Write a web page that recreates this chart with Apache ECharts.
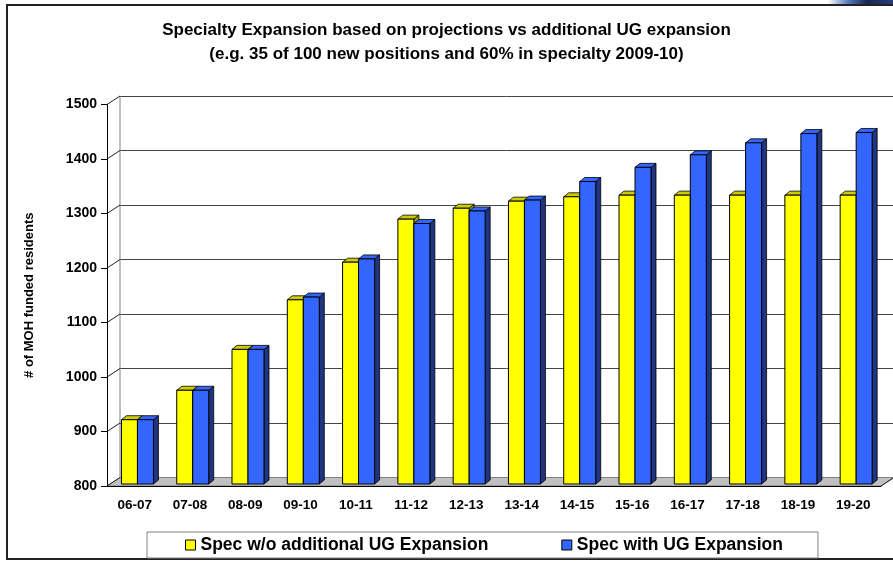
<!DOCTYPE html>
<html>
<head>
<meta charset="utf-8">
<script src="https://cdn.jsdelivr.net/npm/echarts@6/dist/echarts.min.js"></script>
<style>
  html, body { margin: 0; padding: 0; background: #fff; }
  #chart { width: 893px; height: 561px; }
</style>
</head>
<body>
<div id="chart"></div>
<script>
// values
const categories = ['06-07', '07-08', '08-09', '09-10', '10-11', '11-12', '12-13',
  '13-14', '14-15', '15-16', '16-17', '17-18', '18-19', '19-20']
const specWithout = [918, 972, 1047, 1138, 1207, 1286, 1306, 1319, 1327, 1330, 1330, 1330, 1330, 1330]
const specWith = [918, 972, 1047, 1143, 1213, 1278, 1301, 1321, 1355, 1381, 1404, 1426, 1443, 1445]
const yTicks = [800, 900, 1000, 1100, 1200, 1300, 1400, 1500]
const seriesNames = ['Spec w/o additional UG Expansion', 'Spec with UG Expansion']

const FONT = '"Liberation Sans", Arial, sans-serif'
const DX = 13   // depth of the back wall
const DY = 8.5
const BW = 16   // bar width
const BD = 5    // bar depth x
const BH = 4    // bar depth y

const chart = echarts.init(document.getElementById('chart'))

// one 3d looking column, front face + top + side
function barRenderer (colors, offset) {
  return function (params, api) {
    const idx = api.value(0)
    const c = api.coord([idx, api.value(1)])
    const b = api.coord([idx, yTicks[0]])
    const x0 = c[0] + offset
    const top = c[1] - 2
    const bottom = b[1] - 2
    const x1 = x0 + BW
    return {
      type: 'group',
      children: [
        {
          type: 'polygon',
          shape: { points: [[x1, top], [x1 + BD, top - BH], [x1 + BD, bottom - BH], [x1, bottom]] },
          style: { fill: colors.side, stroke: '#000', lineWidth: 0.8 }
        },
        {
          type: 'polygon',
          shape: { points: [[x0, top], [x1, top], [x1 + BD, top - BH], [x0 + BD, top - BH]] },
          style: { fill: colors.top, stroke: '#000', lineWidth: 0.8 }
        },
        {
          type: 'rect',
          shape: { x: x0, y: top, width: BW, height: bottom - top },
          style: { fill: colors.front, stroke: '#000', lineWidth: 1 }
        }
      ]
    }
  }
}

// floor and the little slanted lines joining the front axis to the back wall
function decorRenderer (params, api) {
  const cs = params.coordSys
  const v = api.value(0)
  const p = api.coord([0, v])
  const y = p[1]
  const children = [{
    type: 'line',
    shape: { x1: cs.x, y1: y, x2: cs.x + DX, y2: y - DY },
    style: { stroke: '#222', lineWidth: 1 }
  }]
  if (v === yTicks[0]) {
    children.unshift({
      type: 'polygon',
      shape: {
        points: [[cs.x, y], [cs.x + cs.width, y], [cs.x + cs.width + DX, y - DY], [cs.x + DX, y - DY]]
      },
      style: { fill: '#c0c0c0', stroke: '#808080', lineWidth: 1 }
    })
    children.push({
      type: 'line',
      shape: { x1: cs.x + DX, y1: y - DY, x2: cs.x + DX, y2: cs.y - DY },
      style: { stroke: '#808080', lineWidth: 1 }
    })
    children.push({
      type: 'line',
      shape: { x1: cs.x + cs.width, y1: y, x2: cs.x + cs.width + DX, y2: y - DY },
      style: { stroke: '#222', lineWidth: 1 }
    })
  }
  return { type: 'group', children: children }
}

chart.setOption({
  animation: false,
  title: {
    text: 'Specialty Expansion based on projections vs additional UG expansion\n(e.g. 35 of 100 new positions and 60% in specialty 2009-10)',
    left: 'center',
    top: 18,
    padding: [0, 0, 0, 8],
    textStyle: { fontFamily: FONT, fontWeight: 'bold', fontSize: 17, lineHeight: 24, color: '#000' }
  },
  legend: {
    data: seriesNames,
    left: 147,
    top: 532,
    padding: [4, 35, 4, 38],
    itemGap: 73,
    itemWidth: 10,
    itemHeight: 10,
    icon: 'rect',
    borderColor: '#808080',
    borderWidth: 1,
    itemStyle: { borderColor: '#000', borderWidth: 1 },
    textStyle: { fontFamily: FONT, fontWeight: 'bold', fontSize: 17.5, color: '#000' }
  },
  graphic: [
    {
      type: 'rect',
      shape: { x: 7, y: 5, width: 900, height: 554 },
      style: { fill: 'none', stroke: '#222', lineWidth: 2 },
      z: 0
    },
    {
      type: 'polygon',
      shape: { points: [[828, 0], [893, 0], [893, 4], [828, 4]] },
      style: {
        fill: new echarts.graphic.LinearGradient(0, 0, 1, 0, [
          { offset: 0, color: '#ffffff' },
          { offset: 0.3, color: '#5a7fc0' },
          { offset: 0.6, color: '#1a2550' },
          { offset: 1, color: '#27407a' }
        ])
      }
    }
  ],
  grid: [
    { left: 107, right: 12, top: 104.5, bottom: 75 },
    { left: 107 + DX, right: 12 - DX, top: 104.5 - DY, bottom: 75 + DY }
  ],
  xAxis: [
    {
      type: 'category',
      gridIndex: 0,
      data: categories,
      axisLine: { lineStyle: { color: '#000', width: 1 } },
      axisTick: { length: 6, lineStyle: { color: '#000' } },
      axisLabel: { fontFamily: FONT, fontWeight: 'bold', fontSize: 13.5, color: '#000', margin: 12, interval: 0 },
      z: 5
    },
    { type: 'category', gridIndex: 1, data: categories, show: false }
  ],
  yAxis: [
    {
      type: 'value',
      gridIndex: 0,
      min: 800,
      max: 1500,
      interval: 100,
      name: '# of MOH funded residents',
      nameLocation: 'middle',
      nameGap: 71,
      nameTextStyle: { fontFamily: FONT, fontWeight: 'bold', fontSize: 13, color: '#000' },
      axisLine: { show: true, lineStyle: { color: '#000', width: 1 } },
      axisTick: { show: true, length: 6, lineStyle: { color: '#000' } },
      axisLabel: { fontFamily: FONT, fontWeight: 'bold', fontSize: 14, color: '#000', margin: 10, formatter: v => String(v) },
      splitLine: { show: false },
      z: 5
    },
    {
      type: 'value',
      gridIndex: 1,
      min: 800,
      max: 1500,
      interval: 100,
      axisLine: { show: false },
      axisTick: { show: false },
      axisLabel: { show: false },
      splitLine: { lineStyle: { color: '#444', width: 1 } }
    }
  ],
  series: [
    {
      type: 'custom',
      name: 'decor',
      xAxisIndex: 0,
      yAxisIndex: 0,
      data: yTicks.map(v => [v]),
      renderItem: decorRenderer,
      silent: true,
      clip: false,
      z: 1
    },
    {
      type: 'custom',
      name: seriesNames[0],
      xAxisIndex: 0,
      yAxisIndex: 0,
      data: specWithout.map((v, i) => [i, v]),
      encode: { x: 0, y: 1 },
      itemStyle: { color: '#FFFF00' },
      renderItem: barRenderer({ front: '#FFFF00', top: '#CCCC00', side: '#999900' }, 2.8 - BW),
      clip: false,
      z: 3
    },
    {
      type: 'custom',
      name: seriesNames[1],
      xAxisIndex: 0,
      yAxisIndex: 0,
      data: specWith.map((v, i) => [i, v]),
      encode: { x: 0, y: 1 },
      itemStyle: { color: '#3366FF' },
      renderItem: barRenderer({ front: '#3366FF', top: '#3366FF', side: '#1F3580' }, 2.8),
      clip: false,
      z: 3
    }
  ]
})
</script>
</body>
</html>
